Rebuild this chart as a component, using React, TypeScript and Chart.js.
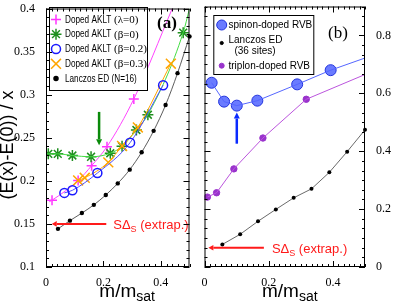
import React, { useEffect, useRef } from 'react';
import { Chart, registerables } from 'chart.js';
import { drawPoint } from 'chart.js/helpers';

Chart.register(...registerables);

// ---------------- Panel (a) data ----------------
const aXTicks = [0, 0.2, 0.4];
const aYTicks = [0.1, 0.15, 0.2, 0.25, 0.3, 0.35, 0.4];

// Doped AKLT (lambda=0)
const aLambda0X = [0.021, 0.112, 0.159, 0.2125, 0.306];
const aLambda0Y = [0.1775, 0.2004, 0.2176, 0.2397, 0.295];
const aLambda0CurveX = [0.011, 0.021, 0.112, 0.159, 0.2125, 0.306, 0.44];
const aLambda0CurveY = [0.1756, 0.1775, 0.2004, 0.2176, 0.2397, 0.295, 0.4];

// Doped AKLT (beta=0)
const aBeta0X = [0.008, 0.041, 0.092, 0.157, 0.224, 0.265, 0.315, 0.355, 0.478];
const aBeta0Y = [0.2313, 0.2313, 0.2294, 0.2279, 0.232, 0.24, 0.259, 0.2767, 0.372];
const aBeta0CurveX = [0, 0.008, 0.041, 0.092, 0.157, 0.224, 0.265, 0.315, 0.355, 0.478, 0.5];
const aBeta0CurveY = [0.2315, 0.2313, 0.2313, 0.2294, 0.2279, 0.232, 0.24, 0.259, 0.2767, 0.372, 0.4];

// Doped AKLT (beta=0.2)
const aBeta02X = [0.064, 0.092, 0.179, 0.293, 0.408];
const aBeta02Y = [0.186, 0.189, 0.209, 0.2443, 0.311];

// Doped AKLT (beta=0.3)
const aBeta03X = [0.112, 0.135, 0.217, 0.265, 0.32, 0.435];
const aBeta03Y = [0.2005, 0.2035, 0.2214, 0.2405, 0.262, 0.336];

// Lanczos ED (N=16)
const aLanczosX = [0.0417, 0.0833, 0.125, 0.1667, 0.2083, 0.25, 0.2917, 0.3333, 0.375, 0.4167, 0.4583, 0.5];
const aLanczosY = [0.1443, 0.1538, 0.1626, 0.1721, 0.1836, 0.197, 0.213, 0.2332, 0.258, 0.288, 0.325, 0.3676];

// annotations (a)
const aGreenArrowX = 0.185;
const aGreenArrowY = [0.28, 0.2414];
const aRedArrowY = 0.15;
const aRedArrowX = [0.21, 0.02];

// ---------------- Panel (b) data ----------------
const bXTicks = [0, 0.2, 0.4];
const bYTicks = [0, 0.2, 0.4, 0.6, 0.8];

// spinon-doped RVB
const bSpinonX = [0.0223, 0.061, 0.1006, 0.1646, 0.2887, 0.393];
const bSpinonY = [0.6366, 0.5713, 0.5575, 0.5747, 0.631, 0.68];
const bSpinonLineX = [0.0223, 0.061, 0.1006, 0.1646, 0.2887, 0.393, 0.5];
const bSpinonLineY = [0.6366, 0.5713, 0.5575, 0.5747, 0.631, 0.68, 0.722];

// Lanczos ED (36 sites)
const bLanczosX = [0.0556, 0.1111, 0.1667, 0.2222, 0.2778, 0.3333, 0.3889, 0.4444, 0.5];
const bLanczosY = [0.078, 0.113, 0.158, 0.199, 0.239, 0.27, 0.327, 0.3985, 0.474];

// triplon-doped RVB
const bTriplonX = [0.009, 0.0376, 0.0915, 0.182, 0.317];
const bTriplonY = [0.2415, 0.2565, 0.339, 0.4456, 0.5795];
const bTriplonLineX = [0.009, 0.0376, 0.0915, 0.182, 0.317, 0.5];
const bTriplonLineY = [0.2415, 0.2565, 0.339, 0.4456, 0.5795, 0.665];

// annotations (b)
const bBlueArrowX = 0.1006;
const bBlueArrowY = [0.426, 0.5335];
const bRedArrowY = 0.0663;
const bRedArrowX = [0.185, 0.012];

// ---------------- helpers ----------------
const SANS = '"Liberation Sans", Arial, Helvetica, sans-serif';
const SERIF = '"Liberation Serif", "Times New Roman", Times, serif';

const pts = (xs: number[], ys: number[]) => xs.map((x, i) => ({ x, y: ys[i] }));

function fontAvailable(name: string): boolean {
  const c = document.createElement('canvas').getContext('2d')!;
  c.font = '20px monospace';
  const w1 = c.measureText('Doped AKLT abcdef').width;
  c.font = `20px "${name}", monospace`;
  const w2 = c.measureText('Doped AKLT abcdef').width;
  return Math.abs(w1 - w2) > 0.5;
}

function drawNarrowText(ctx: CanvasRenderingContext2D, text: string, x: number, y: number, size: number, narrow: boolean): number {
  if (narrow) {
    ctx.font = `${size}px "Liberation Sans Narrow"`;
    ctx.fillText(text, x, y);
    return ctx.measureText(text).width;
  }
  ctx.save();
  ctx.font = `${size}px ${SANS}`;
  ctx.translate(x, y);
  ctx.scale(0.82, 1);
  ctx.fillText(text, 0, 0);
  const w = ctx.measureText(text).width * 0.82;
  ctx.restore();
  return w;
}

function arrow(ctx: CanvasRenderingContext2D, x1: number, y1: number, x2: number, y2: number, color: string, lw: number, hl: number, hw: number) {
  const ang = Math.atan2(y2 - y1, x2 - x1);
  const bx = x2 - Math.cos(ang) * hl;
  const by = y2 - Math.sin(ang) * hl;
  ctx.strokeStyle = color;
  ctx.fillStyle = color;
  ctx.lineWidth = lw;
  ctx.beginPath();
  ctx.moveTo(x1, y1);
  ctx.lineTo(bx, by);
  ctx.stroke();
  ctx.beginPath();
  ctx.moveTo(x2, y2);
  ctx.lineTo(bx + Math.sin(ang) * hw, by - Math.cos(ang) * hw);
  ctx.lineTo(bx - Math.sin(ang) * hw, by + Math.cos(ang) * hw);
  ctx.closePath();
  ctx.fill();
}

function redLabel(ctx: CanvasRenderingContext2D, x: number, yc: number) {
  ctx.fillStyle = '#ff1a1a';
  ctx.textBaseline = 'alphabetic';
  ctx.textAlign = 'left';
  const base = yc + 5;
  ctx.font = `13px ${SANS}`;
  ctx.fillText('SΔ', x, base);
  let cx = x + ctx.measureText('SΔ').width;
  ctx.font = `9px ${SANS}`;
  ctx.fillText('S', cx, base + 3.5);
  cx += ctx.measureText('S').width;
  ctx.font = `13px ${SANS}`;
  ctx.fillText(' (extrap.)', cx, base);
}

function xTitle(ctx: CanvasRenderingContext2D, x: number) {
  ctx.fillStyle = '#000';
  ctx.textBaseline = 'alphabetic';
  ctx.textAlign = 'left';
  ctx.font = `19px ${SANS}`;
  ctx.fillText('m/m', x, 296.5);
  const w = ctx.measureText('m/m').width;
  ctx.font = `14px ${SANS}`;
  ctx.fillText('sat', x + w, 300.5);
}

function drawFrameTicks(chart: any, xMinor: number, xMajor: number, yMinor: number, yMajor: number) {
  const { ctx, chartArea: ca } = chart;
  const xs = chart.scales.x;
  const ys = chart.scales.y;
  ctx.strokeStyle = '#000';
  ctx.lineWidth = 1;
  const loop = (min: number, max: number, step: number, major: number, fn: (v: number, m: boolean) => void) => {
    const n = Math.round((max - min) / step);
    for (let i = 0; i <= n; i++) {
      const v = min + i * step;
      const r = v / major;
      fn(v, Math.abs(r - Math.round(r)) < 1e-6);
    }
  };
  ctx.beginPath();
  loop(xs.min, xs.max, xMinor, xMajor, (v, m) => {
    const len = m ? 6 : 3;
    const p = Math.round(xs.getPixelForValue(v)) + 0.5;
    ctx.moveTo(p, ca.bottom);
    ctx.lineTo(p, ca.bottom - len);
    ctx.moveTo(p, ca.top);
    ctx.lineTo(p, ca.top + len);
  });
  loop(ys.min, ys.max, yMinor, yMajor, (v, m) => {
    const len = m ? 6 : 3;
    const p = Math.round(ys.getPixelForValue(v)) + 0.5;
    ctx.moveTo(ca.left, p);
    ctx.lineTo(ca.left + len, p);
    ctx.moveTo(ca.right, p);
    ctx.lineTo(ca.right - len, p);
  });
  ctx.stroke();
  ctx.strokeRect(ca.left + 0.5, ca.top + 0.5, ca.width - 1, ca.height - 1);
}

const narrowOK = fontAvailable('Liberation Sans Narrow');

const decorA = {
  id: 'decorA',
  afterDatasetsDraw(chart: any) {
    const { ctx } = chart;
    const xs = chart.scales.x;
    const ys = chart.scales.y;
    ctx.save();
    // arrows
    const gx = xs.getPixelForValue(aGreenArrowX);
    arrow(ctx, gx, ys.getPixelForValue(aGreenArrowY[0]), gx, ys.getPixelForValue(aGreenArrowY[1]), '#0a8a0a', 2.5, 6, 3);
    const ry = ys.getPixelForValue(aRedArrowY);
    const rx1 = xs.getPixelForValue(aRedArrowX[0]);
    arrow(ctx, rx1, ry, xs.getPixelForValue(aRedArrowX[1]), ry, '#ff1a1a', 2, 5, 2.8);
    redLabel(ctx, rx1 + 7, ry);

    // legend box
    ctx.fillStyle = '#fff';
    ctx.fillRect(49, 7, 98, 83);
    ctx.strokeStyle = '#000';
    ctx.lineWidth = 1;
    ctx.strokeRect(49.5, 7.5, 98, 83);
    const entries = [
      { y: 19.5, style: 'cross', r: 5, color: '#ff33ff', fill: '#ff33ff', a: 'Doped AKLT', b: ' (λ=0)' },
      { y: 34.2, style: 'star', r: 5.5, color: '#1f8f1f', fill: '#1f8f1f', a: 'Doped AKLT', b: ' (β=0)' },
      { y: 49, style: 'circle', r: 4.5, color: '#1a1aff', fill: 'rgba(0,0,0,0)', a: 'Doped AKLT', b: ' (β=0.2)' },
      { y: 63.8, style: 'crossRot', r: 7, color: '#ffa500', fill: '#ffa500', a: 'Doped AKLT', b: ' (β=0.3)' },
      { y: 78.5, style: 'circle', r: 2, color: '#000', fill: '#000', a: 'Lanczos ED (N=16)', b: '' },
    ];
    for (const e of entries) {
      ctx.strokeStyle = e.color;
      ctx.fillStyle = e.fill;
      ctx.lineWidth = 1.5;
      drawPoint(ctx, { pointStyle: e.style, radius: e.r, rotation: 0, borderWidth: 1.5 } as any, 56, e.y);
      ctx.fillStyle = '#000';
      ctx.textBaseline = 'middle';
      ctx.textAlign = 'left';
      const w = drawNarrowText(ctx, e.a, 65, e.y + 0.5, 10, narrowOK);
      if (e.b) {
        ctx.font = `11px ${SERIF}`;
        ctx.fillText(e.b, 65 + w, e.y + 0.5);
      }
    }
    // panel label
    ctx.fillStyle = '#000';
    ctx.font = `bold 17px ${SERIF}`;
    ctx.textAlign = 'center';
    ctx.textBaseline = 'middle';
    ctx.fillText('(a)', 167, 24);

    drawFrameTicks(chart, 0.02, 0.2, 0.01, 0.05);

    // titles
    xTitle(ctx, 99.3);
    ctx.save();
    ctx.translate(13, 145);
    ctx.rotate(-Math.PI / 2);
    ctx.fillStyle = '#000';
    ctx.font = `18px ${SANS}`;
    ctx.textAlign = 'center';
    ctx.textBaseline = 'alphabetic';
    ctx.fillText('(E(x)-E(0)) / x', 0, 0);
    ctx.restore();
    ctx.restore();
  },
};

const decorB = {
  id: 'decorB',
  afterDatasetsDraw(chart: any) {
    const { ctx } = chart;
    const xs = chart.scales.x;
    const ys = chart.scales.y;
    ctx.save();
    const bx = xs.getPixelForValue(bBlueArrowX);
    arrow(ctx, bx, ys.getPixelForValue(bBlueArrowY[0]), bx, ys.getPixelForValue(bBlueArrowY[1]), '#0a2aff', 2.5, 6, 3);
    const ry = ys.getPixelForValue(bRedArrowY);
    const rx1 = xs.getPixelForValue(bRedArrowX[0]);
    arrow(ctx, rx1, ry, xs.getPixelForValue(bRedArrowX[1]), ry, '#ff1a1a', 2, 5, 2.8);
    redLabel(ctx, rx1 + 8, ry);

    // legend
    const ox = 15.3;
    ctx.fillStyle = '#fff';
    ctx.fillRect(ox, 15, 100, 59);
    ctx.strokeStyle = '#000';
    ctx.lineWidth = 1;
    ctx.strokeRect(ox + 0.5, 15.5, 100, 59);
    const sx = 23.7;
    const tx = 30.5;
    ctx.lineWidth = 1;
    ctx.strokeStyle = '#2233dd';
    ctx.fillStyle = '#6a7bff';
    drawPoint(ctx, { pointStyle: 'circle', radius: 5, rotation: 0, borderWidth: 1 } as any, sx, 25);
    ctx.strokeStyle = '#000';
    ctx.fillStyle = '#000';
    drawPoint(ctx, { pointStyle: 'circle', radius: 1.6, rotation: 0, borderWidth: 1 } as any, sx, 43);
    ctx.strokeStyle = '#9933cc';
    ctx.fillStyle = '#9933cc';
    drawPoint(ctx, { pointStyle: 'circle', radius: 2.5, rotation: 0, borderWidth: 1 } as any, sx, 65.7);
    ctx.fillStyle = '#000';
    ctx.font = `10px ${SANS}`;
    ctx.textBaseline = 'middle';
    ctx.textAlign = 'left';
    ctx.fillText('spinon-doped RVB', tx, 25.5);
    ctx.fillText('Lanczos ED', tx, 40.7);
    ctx.textAlign = 'center';
    ctx.fillText('(36 sites)', 57, 51);
    ctx.textAlign = 'left';
    ctx.fillText('triplon-doped RVB', tx, 66);

    ctx.font = `17px ${SERIF}`;
    ctx.textAlign = 'center';
    ctx.textBaseline = 'middle';
    ctx.fillText('(b)', 140, 34);

    drawFrameTicks(chart, 0.2 / 12, 0.2, 0.2 / 6, 0.2);
    xTitle(ctx, 64);
    ctx.restore();
  },
};

const fmt = (v: any) => {
  const n = Number(v);
  return String(Math.round(n * 100) / 100);
};

function scales(xTicks: number[], yTicks: number[], yMin: number, yMax: number, yPos: 'left' | 'right', yWidth: number) {
  return {
    x: {
      type: 'linear',
      position: 'bottom',
      min: 0,
      max: 0.5,
      grid: { display: false },
      border: { display: false },
      ticks: { color: '#000', font: { family: SERIF, size: 12 }, padding: 1, maxRotation: 0, autoSkip: false, callback: fmt },
      afterBuildTicks: (s: any) => { s.ticks = xTicks.map((v) => ({ value: v })); },
      afterFit: (s: any) => { s.height = 38; s.paddingLeft = 0; s.paddingRight = 0; },
    },
    y: {
      type: 'linear',
      position: yPos,
      min: yMin,
      max: yMax,
      grid: { display: false },
      border: { display: false },
      ticks: { color: '#000', font: { family: SERIF, size: 12 }, padding: 3, autoSkip: false, callback: fmt },
      afterBuildTicks: (s: any) => { s.ticks = yTicks.map((v) => ({ value: v })); },
      afterFit: (s: any) => { s.width = yWidth; s.paddingTop = 0; s.paddingBottom = 0; },
    },
  };
}

const mono = { cubicInterpolationMode: 'monotone' as const };

function configA(): any {
  return {
    type: 'scatter',
    data: {
      datasets: [
        { data: pts(aLanczosX, aLanczosY), showLine: true, ...mono, borderColor: '#333', borderWidth: 0.8, pointRadius: 2.2, pointBackgroundColor: '#000', pointBorderColor: '#000', pointBorderWidth: 0, clip: false },
        { data: pts(aBeta02X, aBeta02Y), showLine: true, ...mono, borderColor: '#5050ff', borderWidth: 1, pointStyle: 'circle', pointRadius: 4.5, pointBackgroundColor: 'rgba(0,0,0,0)', pointBorderColor: '#1a1aff', pointBorderWidth: 1.5 },
        { data: pts(aBeta03X, aBeta03Y), showLine: true, ...mono, borderColor: '#ffa500', borderWidth: 1, pointStyle: 'crossRot', pointRadius: 7, pointBorderColor: '#ffa500', pointBorderWidth: 1.5 },
        { data: pts(aBeta0CurveX, aBeta0CurveY), showLine: true, ...mono, borderColor: '#44dd44', borderWidth: 1, pointRadius: 0 },
        { data: pts(aBeta0X, aBeta0Y), showLine: false, pointStyle: 'star', pointRadius: 5.5, pointBorderColor: '#1f8f1f', pointBorderWidth: 1.5 },
        { data: pts(aLambda0CurveX, aLambda0CurveY), showLine: true, ...mono, borderColor: '#ff44ff', borderWidth: 1, pointRadius: 0 },
        { data: pts(aLambda0X, aLambda0Y), showLine: false, pointStyle: 'cross', pointRadius: 5, pointBorderColor: '#ff33ff', pointBorderWidth: 1.5 },
      ],
    },
    options: {
      responsive: false,
      animation: false,
      devicePixelRatio: 1,
      layout: { padding: { top: 5, right: 3, left: 0, bottom: 0 } },
      plugins: { legend: { display: false }, tooltip: { enabled: false } },
      events: [],
      scales: scales(aXTicks, aYTicks, 0.1, 0.4, 'left', 46),
    },
    plugins: [decorA],
  };
}

function configB(): any {
  return {
    type: 'scatter',
    data: {
      datasets: [
        { data: pts(bSpinonLineX, bSpinonLineY), showLine: true, borderColor: '#5566ff', borderWidth: 1, pointRadius: 0 },
        { data: pts(bSpinonX, bSpinonY), showLine: false, pointStyle: 'circle', pointRadius: 5.5, pointBackgroundColor: '#6a7bff', pointBorderColor: '#2233dd', pointBorderWidth: 1 },
        { data: pts(bTriplonLineX, bTriplonLineY), showLine: true, borderColor: '#bb55dd', borderWidth: 1, pointRadius: 0 },
        { data: pts(bTriplonX, bTriplonY), showLine: false, pointStyle: 'circle', pointRadius: 3.2, pointBackgroundColor: '#9933cc', pointBorderColor: '#9933cc', pointBorderWidth: 1 },
        { data: pts(bLanczosX, bLanczosY), showLine: true, borderColor: '#444', borderWidth: 0.8, pointRadius: 2, pointBackgroundColor: '#000', pointBorderColor: '#000', pointBorderWidth: 0, clip: false },
      ],
    },
    options: {
      responsive: false,
      animation: false,
      devicePixelRatio: 1,
      layout: { padding: { top: 5, right: 0, left: 3, bottom: 0 } },
      plugins: { legend: { display: false }, tooltip: { enabled: false } },
      events: [],
      scales: scales(bXTicks, bYTicks, 0, 0.9, 'right', 30),
    },
    plugins: [decorB],
  };
}

export default function App() {
  const refA = useRef<HTMLCanvasElement>(null);
  const refB = useRef<HTMLCanvasElement>(null);
  useEffect(() => {
    const a = new Chart(refA.current!, configA());
    const b = new Chart(refB.current!, configB());
    return () => {
      a.destroy();
      b.destroy();
    };
  }, []);
  return (
    <div style={{ position: 'absolute', left: 0, top: 0, width: 395, height: 305, background: '#fff' }}>
      <canvas ref={refA} width={198} height={305} style={{ position: 'absolute', left: 0, top: 0, width: 198, height: 305 }} />
      <canvas ref={refB} width={197} height={305} style={{ position: 'absolute', left: 198, top: 0, width: 197, height: 305 }} />
    </div>
  );
}
